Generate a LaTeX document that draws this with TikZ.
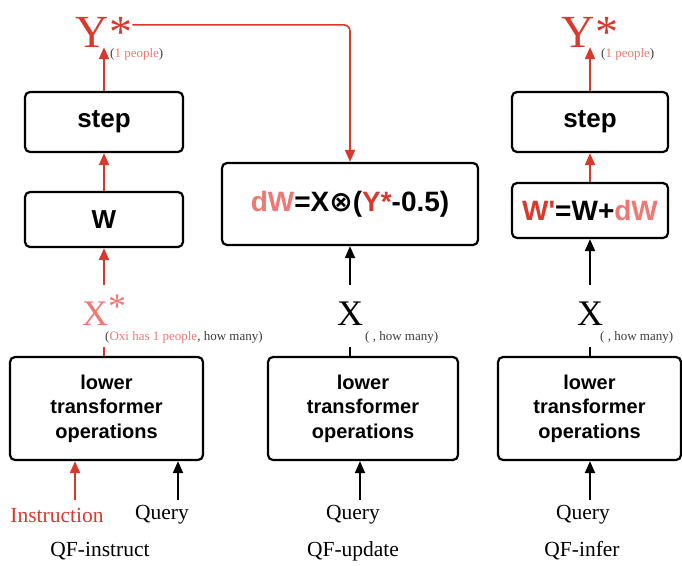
\documentclass[tikz,border=0pt]{standalone}
\usepackage{fontspec}
\setmainfont{Liberation Serif}
\setsansfont{Liberation Sans}
\newfontfamily\symbolfont{DejaVu Sans}
\usetikzlibrary{arrows.meta}

\definecolor{qfred}{RGB}{217,56,45}
\definecolor{qfpink}{RGB}{238,120,115}
\definecolor{qfgray}{RGB}{60,60,60}

\begin{document}
\begin{tikzpicture}[x=1pt,y=-1pt]
    % Styles for the boxes, the symbols and the arrows
    \tikzstyle{opbox}=[draw, line width=2.2pt, rounded corners=5pt, align=center, font=\sffamily\bfseries\fontsize{26}{30}\selectfont]
    \tikzstyle{eqbox}=[opbox, font=\sffamily\bfseries\fontsize{28}{32}\selectfont]
    \tikzstyle{lowbox}=[opbox, minimum height=103pt, font=\sffamily\bfseries\fontsize{20}{24.5}\selectfont]
    \tikzstyle{ystar}=[inner sep=0pt, anchor=base, font=\fontsize{46}{46}\selectfont, qfred]
    \tikzstyle{xvar}=[inner sep=0pt, anchor=base, text height=40pt, font=\fontsize{36}{36}\selectfont]
    \tikzstyle{note}=[inner sep=0pt, anchor=west, font=\fontsize{13}{13}\selectfont, qfgray]
    \tikzstyle{inlabel}=[inner sep=0pt, font=\fontsize{21.5}{21.5}\selectfont]
    \tikzstyle{flow}=[line width=2pt, -{Triangle[length=12pt,width=10pt]}]

    \useasboundingbox (0,0) rectangle (682,565);

    % QF-instruct column
    \node[opbox, minimum width=158pt, minimum height=60pt] (stepL) at (104,122) {step};
    \node[opbox, minimum width=158pt, minimum height=55pt] (wL) at (104,219.5) {W};
    \node[lowbox, minimum width=193pt] (lowL) at (106.5,408.5) {lower\\transformer\\operations};
    \node[ystar] (yL) at (104,47) {Y*};
    \node[note] at (110,54) {(\textcolor{qfpink}{1 people})};
    \node[xvar, qfpink] (xL) at (104,325) {X\raisebox{7pt}{*}};
    \node[note] at (105,337) {(\textcolor{qfpink}{Oxi has 1 people}, how many)};
    \node[inlabel, qfred] (instr) at (57,515) {Instruction};
    \node[inlabel] (queryL) at (162,515) {Query};
    \node[inlabel] (nameL) at (100,551) {QF-instruct};
    \coordinate (tickL) at (104,347);
    \coordinate (inL) at (75,500);
    \coordinate (inQL) at (178,500);

    \draw[flow, qfred] (stepL.north) -- (yL.south);
    \draw[flow, qfred] (wL.north) -- (stepL.south);
    \draw[flow, qfred] (xL.north) -- (wL.south);
    \draw[qfred, line width=2pt] (tickL |- lowL.north) -- (tickL);
    \draw[flow, qfred] (inL) -- (inL |- lowL.south);
    \draw[flow] (inQL) -- (inQL |- lowL.south);

    % QF-update column
    \node[eqbox, minimum width=256pt, minimum height=82pt] (dW) at (350,204) {\textcolor{qfpink}{dW}=X{\symbolfont ⊗}(\textcolor{qfred}{Y*}-0.5)};
    \node[lowbox, minimum width=190pt] (lowM) at (363,408.5) {lower\\transformer\\operations};
    \node[xvar] (xM) at (350,325) {X};
    \node[note] at (365,337) {( , how many)};
    \node[inlabel] (queryM) at (353,515) {Query};
    \node[inlabel] (nameM) at (353,551) {QF-update};
    \coordinate (tickM) at (350,347);
    \coordinate (inM) at (360,500);

    \draw[flow, qfred, line width=1.6pt, rounded corners=6pt] ([yshift=7pt]yL.east) -| (dW.north);
    \draw[flow] (xM.north) -- (xM.north |- dW.south);
    \draw[line width=2pt] (tickM |- lowM.north) -- (tickM);
    \draw[flow] (inM) -- (inM |- lowM.south);

    % QF-infer column
    \node[opbox, minimum width=156pt, minimum height=60pt] (stepR) at (590,122) {step};
    \node[eqbox, minimum width=156pt, minimum height=55pt] (wR) at (590,210.5) {\textcolor{qfred}{W\textquotesingle}=W+\textcolor{qfpink}{dW}};
    \node[lowbox, minimum width=183pt] (lowR) at (589.5,408.5) {lower\\transformer\\operations};
    \node[ystar] (yR) at (590,47) {Y*};
    \node[note] at (601,54) {(\textcolor{qfpink}{1 people})};
    \node[xvar] (xR) at (590,325) {X};
    \node[note] at (600,337) {( , how many)};
    \node[inlabel] (queryR) at (583,515) {Query};
    \node[inlabel] (nameR) at (582,551) {QF-infer};
    \coordinate (tickR) at (590,347);
    \coordinate (inR) at (590,500);

    \draw[flow, qfred] (stepR.north) -- (yR.south);
    \draw[flow, qfred] (wR.north) -- (stepR.south);
    \draw[flow] (xR.north) -- (wR.south);
    \draw[line width=2pt] (tickR |- lowR.north) -- (tickR);
    \draw[flow] (inR) -- (inR |- lowR.south);
\end{tikzpicture}
\end{document}
